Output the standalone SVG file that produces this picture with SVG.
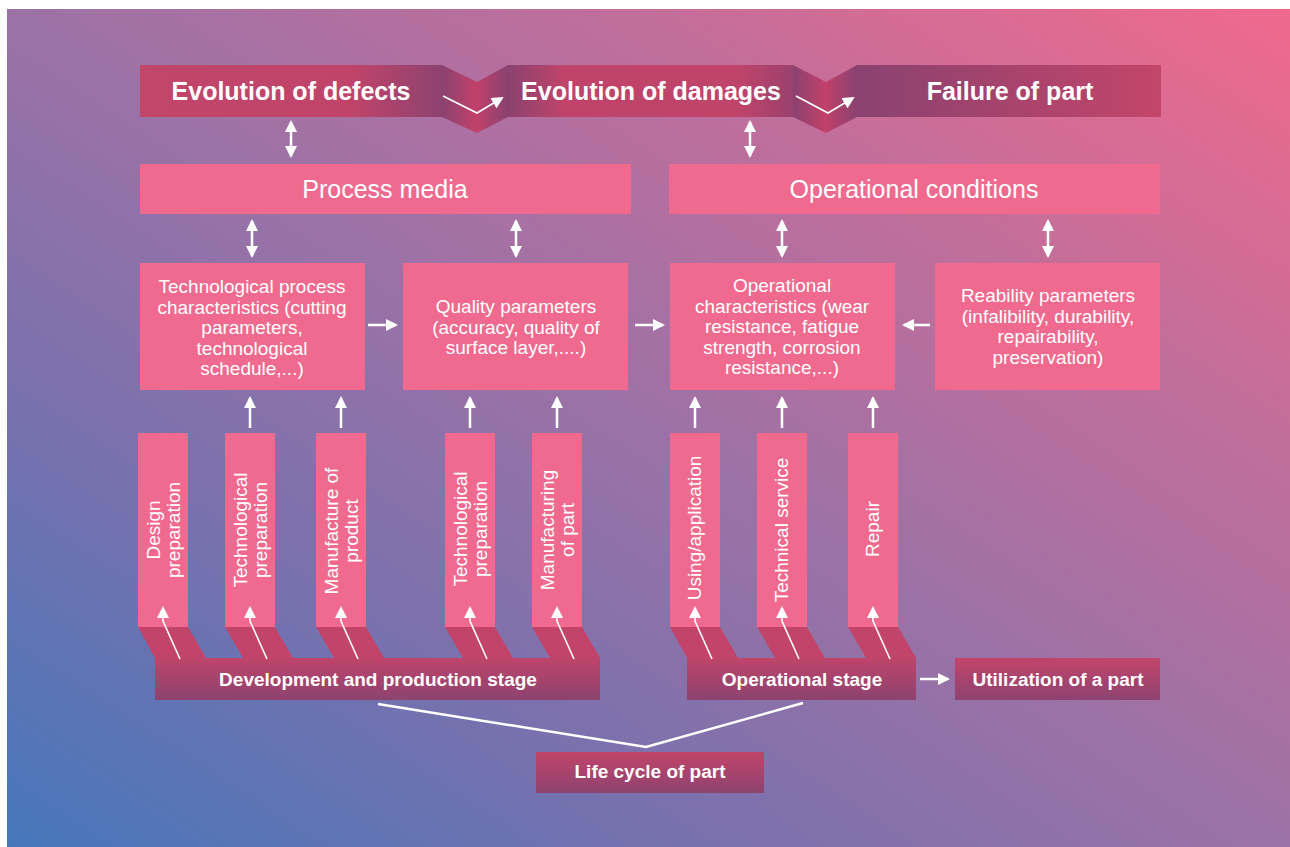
<svg xmlns="http://www.w3.org/2000/svg" width="1290" height="847" viewBox="0 0 1290 847">
<defs>
<style>
text{font-family:"Liberation Sans",Arial,sans-serif;fill:#fff;text-anchor:middle}
.b{font-weight:bold;font-size:25px}
.hd{font-size:25px}
.t{font-size:19px}
.s{font-weight:bold;font-size:19px}
.box{fill:#ef6a8e}
.ln{stroke:#fff;stroke-width:2.5;fill:none}
.thin{stroke:#fff;stroke-width:1.6;fill:none}
</style>
<linearGradient id="bg" x1="0" y1="1" x2="1" y2="0">
<stop offset="0" stop-color="#4677bb"/>
<stop offset="0.28" stop-color="#7a71ad"/>
<stop offset="0.5" stop-color="#9c72a6"/>
<stop offset="0.75" stop-color="#c36e9a"/>
<stop offset="1" stop-color="#f0698c"/>
</linearGradient>
<linearGradient id="stage" x1="0" y1="0" x2="0" y2="1">
<stop offset="0" stop-color="#c3446a"/>
<stop offset="1" stop-color="#8d4370"/>
</linearGradient>
<linearGradient id="stageU" gradientUnits="userSpaceOnUse" x1="0" y1="655" x2="0" y2="700">
<stop offset="0" stop-color="#c3446a"/>
<stop offset="1" stop-color="#8d4370"/>
</linearGradient>
<linearGradient id="seg1" x1="0" y1="0" x2="1" y2="0">
<stop offset="0" stop-color="#c2456a"/>
<stop offset="0.7" stop-color="#c0446a"/>
<stop offset="1" stop-color="#8c4270"/>
</linearGradient>
<linearGradient id="seg2" x1="0" y1="0" x2="1" y2="0">
<stop offset="0" stop-color="#8a4270"/>
<stop offset="0.2" stop-color="#c0446a"/>
<stop offset="0.8" stop-color="#c0446a"/>
<stop offset="1" stop-color="#9a416e"/>
</linearGradient>
<linearGradient id="seg3" x1="0" y1="0" x2="1" y2="0">
<stop offset="0" stop-color="#8a4270"/>
<stop offset="1" stop-color="#c3456a"/>
</linearGradient>
<linearGradient id="fold" x1="0" y1="0" x2="1" y2="0">
<stop offset="0" stop-color="#8a4270"/>
<stop offset="0.5" stop-color="#c1416a"/>
<stop offset="1" stop-color="#8a4270"/>
</linearGradient>
<marker id="a" viewBox="0 0 12 12" refX="10" refY="6" markerWidth="12" markerHeight="12" markerUnits="userSpaceOnUse" orient="auto-start-reverse">
<path d="M0,0 L12,6 L0,12 Z" fill="#fff"/>
</marker>
</defs>

<rect x="7" y="9" width="1283" height="838" fill="url(#bg)"/>

<g id="evolution-defects">
<rect x="140" y="65" width="303" height="52" fill="url(#seg1)"/>
<text class="b" x="291" y="100">Evolution of defects</text>
</g>
<g id="fold-1">
<polygon points="442,65 477,82 508,65 508,117 477,133 442,117" fill="url(#fold)"/>
</g>
<g id="evolution-damages">
<rect x="507" y="65" width="287" height="52" fill="url(#seg2)"/>
<text class="b" x="651" y="100">Evolution of damages</text>
</g>
<g id="fold-2">
<polygon points="793,65 826,82 857,65 857,117 826,133 793,117" fill="url(#fold)"/>
</g>
<g id="failure-of-part">
<rect x="856" y="65" width="305" height="52" fill="url(#seg3)"/>
<text class="b" x="1010" y="100">Failure of part</text>
</g>

<g id="process-media">
<rect class="box" x="140" y="164" width="491" height="50"/>
<text class="hd" x="385" y="198">Process media</text>
</g>
<g id="operational-conditions">
<rect class="box" x="669" y="164" width="491" height="50"/>
<text class="hd" x="914" y="198">Operational conditions</text>
</g>

<g id="tech-process-characteristics">
<rect class="box" x="140" y="263" width="225" height="127"/>
<text class="t" x="252" y="293">Technological process</text>
<text class="t" x="252" y="313.5">characteristics (cutting</text>
<text class="t" x="252" y="334">parameters,</text>
<text class="t" x="252" y="354.5">technological</text>
<text class="t" x="252" y="375">schedule,...)</text>
</g>
<g id="quality-parameters">
<rect class="box" x="403" y="263" width="225" height="127"/>
<text class="t" x="516" y="313">Quality parameters</text>
<text class="t" x="516" y="333.5">(accuracy, quality of</text>
<text class="t" x="516" y="354">surface layer,....)</text>
</g>
<g id="operational-characteristics">
<rect class="box" x="670" y="263" width="225" height="127"/>
<text class="t" x="782" y="292">Operational</text>
<text class="t" x="782" y="312.5">characteristics (wear</text>
<text class="t" x="782" y="333">resistance, fatigue</text>
<text class="t" x="782" y="353.5">strength, corrosion</text>
<text class="t" x="782" y="374">resistance,...)</text>
</g>
<g id="reliability-parameters">
<rect class="box" x="935" y="263" width="225" height="127"/>
<text class="t" x="1048" y="302">Reability parameters</text>
<text class="t" x="1048" y="322.5">(infalibility, durability,</text>
<text class="t" x="1048" y="343">repairability,</text>
<text class="t" x="1048" y="363.5">preservation)</text>
</g>

<g id="development-production-stage">
<polygon points="155,700 155,658 138,627 188,627 206,658 243,658 225,627 275,627 293,658 334,658 316,627 366,627 384,658 463,658 445,627 495,627 513,658 550,658 532,627 582,627 600,658 600,700" fill="url(#stageU)"/>
<text class="s" x="378" y="686">Development and production stage</text>
</g>
<g id="operational-stage">
<polygon points="687,700 687,658 670,627 720,627 738,658 775,658 757,627 807,627 825,658 866,658 848,627 898,627 916,658 916,700" fill="url(#stageU)"/>
<text class="s" x="802" y="686">Operational stage</text>
</g>
<g id="utilization">
<rect x="955" y="658" width="205" height="42" fill="url(#stage)"/>
<text class="s" x="1058" y="686">Utilization of a part</text>
</g>
<g id="life-cycle">
<rect x="536" y="752" width="228" height="41" fill="url(#stage)"/>
<text class="s" x="650" y="778">Life cycle of part</text>
</g>

<g id="bar-design-preparation">
<rect class="box" x="138" y="433" width="50" height="194"/>
<text class="t" transform="translate(160,530) rotate(-90)">Design</text>
<text class="t" transform="translate(180,530) rotate(-90)">preparation</text>
</g>
<g id="bar-technological-preparation-1">
<rect class="box" x="225" y="433" width="50" height="194"/>
<text class="t" transform="translate(247,530) rotate(-90)">Technological</text>
<text class="t" transform="translate(267,530) rotate(-90)">preparation</text>
</g>
<g id="bar-manufacture-of-product">
<rect class="box" x="316" y="433" width="50" height="194"/>
<text class="t" transform="translate(338,531) rotate(-90)">Manufacture of</text>
<text class="t" transform="translate(358,531) rotate(-90)">product</text>
</g>
<g id="bar-technological-preparation-2">
<rect class="box" x="445" y="433" width="50" height="194"/>
<text class="t" transform="translate(467,529) rotate(-90)">Technological</text>
<text class="t" transform="translate(487,529) rotate(-90)">preparation</text>
</g>
<g id="bar-manufacturing-of-part">
<rect class="box" x="532" y="433" width="50" height="194"/>
<text class="t" transform="translate(554,530) rotate(-90)">Manufacturing</text>
<text class="t" transform="translate(574,530) rotate(-90)">of part</text>
</g>
<g id="bar-using-application">
<rect class="box" x="670" y="433" width="50" height="194"/>
<text class="t" transform="translate(701,528) rotate(-90)">Using/application</text>
</g>
<g id="bar-technical-service">
<rect class="box" x="757" y="433" width="50" height="194"/>
<text class="t" transform="translate(788,530) rotate(-90)">Technical service</text>
</g>
<g id="bar-repair">
<rect class="box" x="848" y="433" width="50" height="194"/>
<text class="t" transform="translate(879,529) rotate(-90)">Repair</text>
</g>

<g id="connectors">
<polyline class="thin" points="443,96 477,113 502,98" marker-end="url(#a)"/>
<polyline class="thin" points="796,96 828,113 853,98" marker-end="url(#a)"/>
<line class="ln" x1="291" y1="122" x2="291" y2="156" marker-start="url(#a)" marker-end="url(#a)"/>
<line class="ln" x1="750" y1="122" x2="750" y2="156" marker-start="url(#a)" marker-end="url(#a)"/>
<line class="ln" x1="252" y1="221" x2="252" y2="256" marker-start="url(#a)" marker-end="url(#a)"/>
<line class="ln" x1="516" y1="221" x2="516" y2="256" marker-start="url(#a)" marker-end="url(#a)"/>
<line class="ln" x1="782" y1="221" x2="782" y2="256" marker-start="url(#a)" marker-end="url(#a)"/>
<line class="ln" x1="1048" y1="221" x2="1048" y2="256" marker-start="url(#a)" marker-end="url(#a)"/>
<line class="ln" x1="368" y1="325" x2="396" y2="325" marker-end="url(#a)"/>
<line class="ln" x1="635" y1="325" x2="663" y2="325" marker-end="url(#a)"/>
<line class="ln" x1="930" y1="325" x2="904" y2="325" marker-end="url(#a)"/>
<line class="ln" x1="250" y1="428" x2="250" y2="398" marker-end="url(#a)"/>
<line class="ln" x1="341" y1="428" x2="341" y2="398" marker-end="url(#a)"/>
<line class="ln" x1="470" y1="428" x2="470" y2="398" marker-end="url(#a)"/>
<line class="ln" x1="557" y1="428" x2="557" y2="398" marker-end="url(#a)"/>
<line class="ln" x1="695" y1="428" x2="695" y2="398" marker-end="url(#a)"/>
<line class="ln" x1="782" y1="428" x2="782" y2="398" marker-end="url(#a)"/>
<line class="ln" x1="873" y1="428" x2="873" y2="398" marker-end="url(#a)"/>
<polyline class="thin" points="180,659 163,621 163,608" marker-end="url(#a)"/>
<polyline class="thin" points="267,659 250,621 250,608" marker-end="url(#a)"/>
<polyline class="thin" points="358,659 341,621 341,608" marker-end="url(#a)"/>
<polyline class="thin" points="487,659 470,621 470,608" marker-end="url(#a)"/>
<polyline class="thin" points="574,659 557,621 557,608" marker-end="url(#a)"/>
<polyline class="thin" points="712,659 695,621 695,608" marker-end="url(#a)"/>
<polyline class="thin" points="799,659 782,621 782,608" marker-end="url(#a)"/>
<polyline class="thin" points="890,659 873,621 873,608" marker-end="url(#a)"/>
<line class="ln" x1="920" y1="679" x2="948" y2="679" marker-end="url(#a)"/>
<polyline class="ln" points="378,704 646,747 803,703"/>
</g>
</svg>
